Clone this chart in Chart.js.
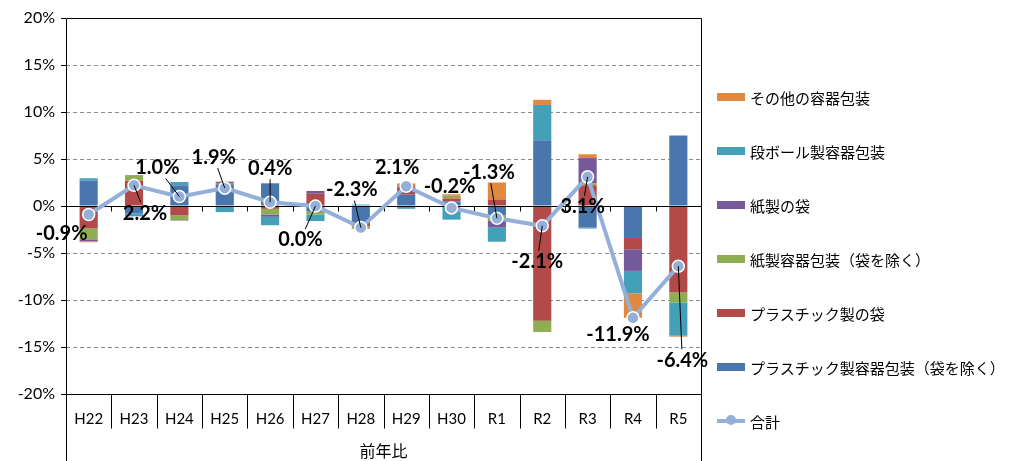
<!DOCTYPE html>
<html>
<head>
<meta charset="utf-8">
<script src="https://cdn.jsdelivr.net/npm/chart.js@4/dist/chart.umd.min.js"></script>
<style>
  html, body { margin: 0; padding: 0; background: #fff; }
  #wrap { position: relative; width: 1010px; height: 461px; }
  #legend { position: absolute; left: 717px; top: 0; font-family: Lato, "Noto Sans CJK JP", sans-serif; font-size: 15px; color: #000; }
  .item { position: absolute; left: 0; height: 20px; display: flex; align-items: center; white-space: nowrap; }
  .sw { width: 28px; height: 8px; margin-right: 5px; }
  .ln { position: relative; width: 28px; height: 4px; margin-right: 5px; background: #94b0d9; }
  .ln::after { content: ''; position: absolute; left: 9px; top: -4px; width: 10px; height: 10px; border-radius: 50%; background: #94b0d9; }
</style>
</head>
<body>
<div id="wrap">
  <canvas id="chart" width="1010" height="461"></canvas>
  <div id="legend"></div>
</div>
<script>
document.addEventListener('DOMContentLoaded', function() {
    // ── Data ──
    const categories = ['H22', 'H23', 'H24', 'H25', 'H26', 'H27', 'H28', 'H29', 'H30', 'R1', 'R2', 'R3', 'R4', 'R5'];
    const plasticContainers = [2.7, -0.8, 2.2, 2.3, 2.4, -0.6, -1.7, 1.2, 0.5, -1.0, 7.0, -2.3, -3.4, 7.5];
    const plasticBags       = [-2.4, 2.7, -1.0, 0.1, -0.3, 1.3, -0.45, 0.8, 0.3, 0.7, -12.2, 2.2, -1.2, -9.2];
    const paperContainers   = [-1.15, 0.5, -0.5, 0.05, -0.6, -0.3, -0.25, 0, 0.35, -0.6, -1.2, 0.2, 0, -1.05];
    const paperBags         = [-0.2, 0.05, -0.05, 0.1, -0.25, 0.3, -0.05, 0.1, 0, -0.7, 0, 2.7, -2.3, 0];
    const cardboard         = [0.25, -0.3, 0.35, -0.65, -0.9, -0.7, 0.15, -0.3, -1.45, -1.5, 3.75, -0.1, -2.4, -3.55];
    const otherContainers   = [-0.1, 0.05, 0, 0.05, 0.05, 0, 0, 0.3, 0.1, 1.8, 0.55, 0.4, -2.6, -0.1];
    const total             = [-0.9, 2.2, 1.0, 1.9, 0.4, 0.0, -2.3, 2.1, -0.2, -1.3, -2.1, 3.1, -11.9, -6.4];
    const yTicks = [-20, -15, -10, -5, 0, 5, 10, 15, 20];

    // ── Label placement (offset from point, leader line on/off) ──
    const labelOffsets = [[-27, 19], [11, 28], [-22, -29], [-11, -31], [0, -34], [-15, 34], [-9, -38],
                          [-9, -19], [-2, -21], [-8, -46], [-5, 36], [-5, 30], [-15, 17], [4, 94]];
    const leaders = [false, true, true, true, true, true, true, false, false, true, true, true, false, true];

    const FONT = 'Lato, "Noto Sans CJK JP", sans-serif';

    const series = [
        { label: 'プラスチック製容器包装（袋を除く）', data: plasticContainers, color: '#4a76ae' },
        { label: 'プラスチック製の袋', data: plasticBags, color: '#b14a48' },
        { label: '紙製容器包装（袋を除く）', data: paperContainers, color: '#8fae52' },
        { label: '紙製の袋', data: paperBags, color: '#76599a' },
        { label: '段ボール製容器包装', data: cardboard, color: '#449fb8' },
        { label: 'その他の容器包装', data: otherContainers, color: '#e0893f' }
    ];

    const datasets = series.map(s => ({
        type: 'bar',
        label: s.label,
        data: s.data,
        backgroundColor: s.color,
        borderWidth: 0,
        stack: 'parts',
        order: 1,
        barPercentage: 0.4,
        categoryPercentage: 1
    }));
    datasets.push({
        type: 'line',
        label: '合計',
        data: total,
        stack: 'total',
        order: 0,
        borderColor: '#94b0d9',
        borderWidth: 4,
        pointRadius: 6,
        pointBackgroundColor: '#94b0d9',
        pointBorderColor: '#ffffff',
        pointBorderWidth: 1.5,
        tension: 0
    });

    // ── Frame: box, zero axis, category cells ──
    const framePlugin = {
        id: 'frame',
        beforeDatasetDraw(chart, args) {
            if (args.index !== datasets.length - 1) return;
            const { ctx, chartArea: a, scales: { x, y } } = chart;
            const y0 = Math.round(y.getPixelForValue(0)) + 0.5;
            ctx.save();
            ctx.strokeStyle = '#000';
            ctx.lineWidth = 1;
            ctx.beginPath();
            ctx.moveTo(a.left, y0);
            ctx.lineTo(a.right, y0);
            for (let i = 1; i < categories.length; i++) {
                const px = Math.round(x.getPixelForValue(i - 0.5)) + 0.5;
                ctx.moveTo(px, y0);
                ctx.lineTo(px, y0 + 5);
            }
            ctx.stroke();
            ctx.restore();
        },
        afterDraw(chart) {
            const { ctx, chartArea: a, scales: { x } } = chart;
            const l = Math.round(a.left) + 0.5, r = Math.round(a.right) + 0.5;
            const t = Math.round(a.top) + 0.5, b = Math.round(a.bottom) + 0.5;
            ctx.save();
            ctx.strokeStyle = '#000';
            ctx.lineWidth = 1;
            ctx.beginPath();
            ctx.moveTo(l, chart.height);
            ctx.lineTo(l, t);
            ctx.lineTo(r, t);
            ctx.lineTo(r, chart.height);
            ctx.moveTo(l, b);
            ctx.lineTo(r, b);
            for (let i = 1; i < categories.length; i++) {
                const px = Math.round(x.getPixelForValue(i - 0.5)) + 0.5;
                ctx.moveTo(px, b);
                ctx.lineTo(px, b + 34);
            }
            ctx.stroke();
            ctx.restore();
        }
    };

    // ── Total labels with leader lines ──
    const totalLabels = {
        id: 'totalLabels',
        afterDatasetsDraw(chart) {
            const { ctx } = chart;
            const meta = chart.getDatasetMeta(datasets.length - 1);
            ctx.save();
            ctx.font = 'bold 20px ' + FONT;
            ctx.textAlign = 'center';
            ctx.textBaseline = 'middle';
            meta.data.forEach((pt, i) => {
                const text = total[i].toFixed(1) + '%';
                const cx = pt.x + labelOffsets[i][0];
                const cy = pt.y + labelOffsets[i][1];
                if (leaders[i]) {
                    const hw = ctx.measureText(text).width / 2 + 2, hh = 11;
                    const dx = pt.x - cx, dy = pt.y - cy;
                    const s = Math.min(Math.abs(dx) > 0 ? hw / Math.abs(dx) : Infinity,
                                       Math.abs(dy) > 0 ? hh / Math.abs(dy) : Infinity);
                    if (s < 1) {
                        ctx.strokeStyle = '#000';
                        ctx.lineWidth = 1;
                        ctx.beginPath();
                        ctx.moveTo(cx + dx * s, cy + dy * s);
                        ctx.lineTo(pt.x, pt.y);
                        ctx.stroke();
                    }
                }
                ctx.fillStyle = '#000';
                ctx.fillText(text, cx, cy);
            });
            ctx.restore();
        }
    };

    new Chart(document.getElementById('chart'), {
        data: { labels: categories, datasets: datasets },
        options: {
            responsive: false,
            animation: false,
            devicePixelRatio: 1,
            layout: { padding: { top: 18, right: 309, left: 0, bottom: 0 } },
            plugins: { legend: { display: false }, tooltip: { enabled: false } },
            scales: {
                x: {
                    stacked: true,
                    grid: { display: false },
                    border: { display: false },
                    ticks: { color: '#000', font: { family: FONT, size: 15 }, padding: 8 },
                    title: { display: true, text: '前年比', color: '#000', font: { family: FONT, size: 16 }, padding: { top: 0, bottom: 0 } },
                    afterFit: s => { s.height = 67; }
                },
                y: {
                    stacked: true,
                    min: -20,
                    max: 20,
                    afterBuildTicks: s => { s.ticks = yTicks.map(v => ({ value: v })); },
                    ticks: { color: '#000', font: { family: FONT, size: 16 }, padding: 6, callback: v => v + '%' },
                    grid: {
                        color: c => (c.tick && [0, 20, -20].includes(c.tick.value)) ? 'rgba(0,0,0,0)' : '#8c8c8c',
                        tickColor: '#000',
                        tickLength: 5,
                        lineWidth: 1
                    },
                    border: { display: false, dash: [4, 3] },
                    afterFit: s => { s.width = 66; }
                }
            }
        },
        plugins: [framePlugin, totalLabels]
    });

    // ── Legend ──
    const legend = document.getElementById('legend');
    const items = series.slice().reverse().map(s => ({ label: s.label, color: s.color, line: false }));
    items.push({ label: '合計', line: true });
    items.forEach((it, i) => {
        const div = document.createElement('div');
        div.className = 'item';
        div.style.top = (87 + i * 54) + 'px';
        const mark = document.createElement('span');
        if (it.line) {
            mark.className = 'ln';
        } else {
            mark.className = 'sw';
            mark.style.background = it.color;
        }
        div.appendChild(mark);
        div.appendChild(document.createTextNode(it.label));
        legend.appendChild(div);
    });
});
</script>
</body>
</html>
